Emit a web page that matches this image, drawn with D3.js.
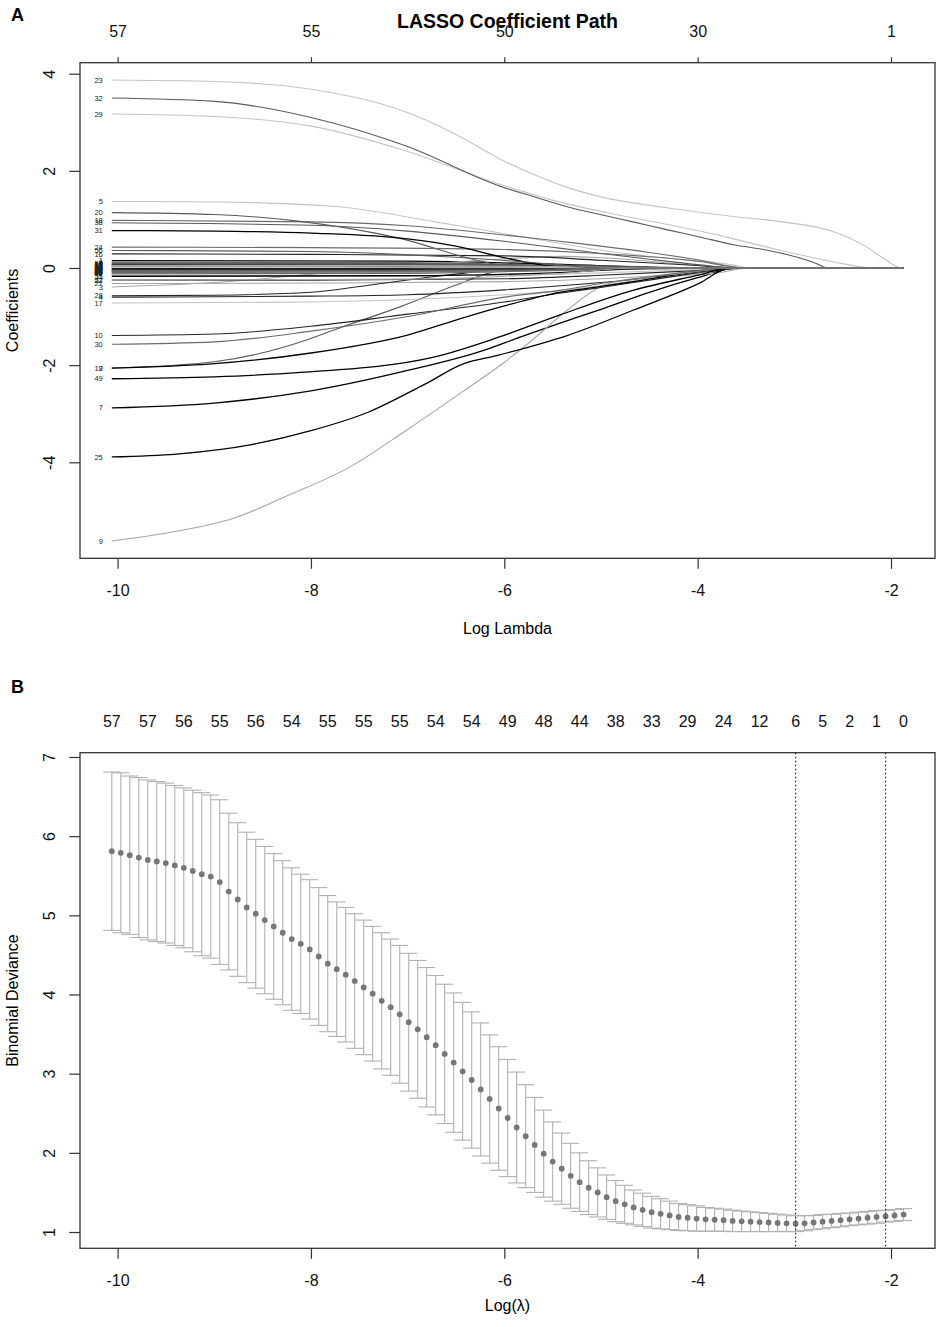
<!DOCTYPE html>
<html>
<head>
<meta charset="utf-8">
<script src="https://cdn.jsdelivr.net/npm/d3@7"></script>
<style>
  body { margin: 0; background: #fff; }
  svg { display: block; font-family: "Liberation Sans", Arial, sans-serif; }
</style>
</head>
<body>
<div id="chart"></div>
<script>
////////////////////////////////////////////////////////////////////////
// Data

// panel A: degrees of freedom shown on the top axis
let topDfTicks = [-10, -8, -6, -4, -2]
let topDfLabels = ['57', '55', '50', '30', '1']

// panel A: variable number of each coefficient path
let coefVars = [
  1, 2, 3, 4, 5, 6, 7, 8, 9, 10, 11, 12, 13, 14, 15, 16, 17, 18, 19, 20,
  21, 22, 23, 24, 25, 26, 27, 28, 29, 30, 31, 32, 33, 34, 35, 36, 37, 38, 39, 40,
  41, 42, 43, 44, 45, 46, 47, 48, 49, 50, 51, 52, 53, 54, 55, 56, 57
]

// panel A: [log lambda, coefficient] knots of each path (same order as coefVars)
let coefPaths = [
  [[-10.06, 0.15], [-7, 0.14], [-5.5, 0.08], [-4.0, 0]],
  [[-10.06, -2.06], [-9, -1.93], [-8, -1.45], [-7.77, -1.28], [-7.08, -0.8], [-6.5, -0.35], [-6.15, -0.1], [-5.8, 0]],
  [[-10.06, -0.39], [-9, -0.3], [-8, -0.13], [-7, 0.04], [-6, 0.19], [-5.4, 0.24], [-5, 0.21], [-4.5, 0.14], [-4, 0.05], [-3.6, 0]],
  [[-10.06, -0.6], [-8, -0.58], [-7, -0.55], [-6, -0.45], [-5, -0.3], [-4.5, -0.2], [-4, -0.08], [-3.5, 0]],
  [[-10.06, 1.37], [-9, 1.36], [-7.77, 1.27], [-6.74, 0.96], [-6.04, 0.72], [-5.43, 0.51], [-5.01, 0.37], [-4.32, 0.2], [-3.63, 0.06], [-3.46, 0]],
  [[-10.06, 0.12], [-7, 0.11], [-5.5, 0.05], [-4.4, 0]],
  [[-10.06, -2.88], [-9, -2.78], [-8, -2.53], [-7, -2.11], [-6.22, -1.7], [-5.83, -1.42], [-5.43, -1.14], [-5, -0.85], [-4.5, -0.5], [-4, -0.2], [-3.6, 0]],
  [[-10.06, 0.1], [-7, 0.09], [-5.5, 0.06], [-3.7, 0]],
  [[-10.06, -5.62], [-9.39, -5.42], [-8.8, -5.15], [-8.21, -4.66], [-7.61, -4.11], [-7.02, -3.35], [-6.42, -2.53], [-6.02, -1.97], [-5.75, -1.55], [-5.35, -0.87], [-5.01, -0.39], [-4.77, -0.25], [-4.32, -0.18], [-3.8, -0.1], [-3.46, 0]],
  [[-10.06, -1.39], [-9, -1.36], [-8, -1.2], [-7, -0.95], [-6, -0.7], [-5.43, -0.52], [-5, -0.4], [-4.5, -0.25], [-4, -0.1], [-3.5, 0]],
  [[-10.06, -0.17], [-8, -0.17], [-6, -0.15], [-5, -0.1], [-4, -0.03], [-3.6, 0]],
  [[-10.06, 0.08], [-7, 0.07], [-5.5, 0.03], [-4.8, 0]],
  [[-10.06, 0.07], [-7, 0.06], [-5.5, 0.02], [-5.2, 0]],
  [[-10.06, 0.06], [-7, 0.06], [-5.5, 0.04], [-3.9, 0]],
  [[-10.06, 0.05], [-7, 0.04], [-5.5, 0.02], [-4.6, 0]],
  [[-10.06, 0.29], [-8, 0.28], [-6, 0.25], [-5, 0.16], [-4, 0.05], [-3.6, 0]],
  [[-10.06, -0.72], [-8, -0.7], [-7, -0.65], [-6, -0.55], [-5.43, -0.47], [-5, -0.36], [-4.5, -0.22], [-4, -0.08], [-3.5, 0]],
  [[-10.06, 0.98], [-8, 0.95], [-7, 0.87], [-6, 0.68], [-5.43, 0.55], [-5, 0.45], [-4.5, 0.32], [-4, 0.17], [-3.5, 0]],
  [[-10.06, -2.06], [-9, -1.97], [-8, -1.75], [-7, -1.38], [-6.4, -1.01], [-6, -0.78], [-5.43, -0.5], [-5, -0.38], [-4.67, -0.28], [-4, -0.08], [-3.6, 0]],
  [[-10.06, 1.14], [-9, 1.1], [-8.11, 0.96], [-7.08, 0.61], [-6.22, 0.13], [-5.8, 0]],
  [[-10.06, 0.04], [-7, 0.03], [-5.8, 0.01], [-5.6, 0]],
  [[-10.06, -0.25], [-8, -0.25], [-6, -0.22], [-5, -0.15], [-4, -0.05], [-3.5, 0]],
  [[-10.06, 3.87], [-9, 3.84], [-8, 3.68], [-7, 3.2], [-6.5, 2.75], [-6.04, 2.24], [-5.7, 1.93], [-5.35, 1.66], [-5.01, 1.47], [-4.32, 1.24], [-3.63, 1.06], [-3.12, 0.95], [-2.6, 0.75], [-2.25, 0.43], [-2.08, 0.2], [-1.88, 0]],
  [[-10.06, 0.43], [-8, 0.42], [-6, 0.38], [-5, 0.3], [-4, 0.14], [-3.5, 0]],
  [[-10.06, -3.89], [-9.39, -3.83], [-8.6, -3.63], [-8, -3.35], [-7.41, -2.97], [-6.82, -2.39], [-6.42, -1.97], [-6.07, -1.8], [-5.63, -1.56], [-5.35, -1.39], [-4.67, -0.87], [-3.98, -0.31], [-3.67, 0]],
  [[-10.06, 0.03], [-7, 0.03], [-5.5, 0.02], [-4.1, 0]],
  [[-10.06, -0.32], [-8, -0.31], [-6, -0.28], [-5, -0.22], [-4.3, -0.14], [-3.6, 0]],
  [[-10.06, -0.57], [-9, -0.56], [-8, -0.5], [-7.42, -0.36], [-6.74, -0.18], [-6.39, -0.1], [-6, 0]],
  [[-10.06, 3.17], [-9, 3.12], [-8, 2.92], [-7, 2.4], [-6.04, 1.72], [-5.35, 1.32], [-5.01, 1.17], [-4.32, 0.9], [-3.98, 0.76], [-3.63, 0.6], [-3.18, 0.38], [-2.6, 0.13], [-2.19, 0]],
  [[-10.06, -1.57], [-9, -1.52], [-8, -1.3], [-7, -1.0], [-6, -0.6], [-5.43, -0.46], [-5, -0.32], [-4.5, -0.18], [-4, -0.06], [-3.6, 0]],
  [[-10.06, 0.77], [-9, 0.76], [-8, 0.72], [-7, 0.6], [-6.5, 0.45], [-6.04, 0.23], [-5.6, 0.06], [-5.3, 0]],
  [[-10.06, 3.5], [-9, 3.43], [-8, 3.1], [-7, 2.5], [-6.04, 1.68], [-5.7, 1.47], [-5.35, 1.26], [-5.01, 1.1], [-4.67, 0.95], [-4.32, 0.79], [-3.98, 0.64], [-3.63, 0.48], [-3.29, 0.37], [-2.95, 0.21], [-2.78, 0.1], [-2.65, 0]],
  [[-10.06, 0.02], [-8, 0.02], [-7, 0.01], [-6.5, 0]],
  [[-10.06, 0.01], [-8, 0.01], [-6.5, 0.005], [-6.0, 0]],
  [[-10.06, 0.01], [-8, 0.01], [-6.3, 0]],
  [[-10.06, -0.01], [-8, -0.01], [-6.8, 0]],
  [[-10.06, -0.02], [-7, -0.02], [-5.5, -0.01], [-5.0, 0]],
  [[-10.06, 0.93], [-8, 0.88], [-7, 0.76], [-6, 0.55], [-5.43, 0.41], [-5, 0.3], [-4.5, 0.18], [-4, 0.07], [-3.6, 0]],
  [[-10.06, -0.03], [-7, -0.03], [-5.5, -0.02], [-4.3, 0]],
  [[-10.06, -0.04], [-7, -0.04], [-5.5, -0.02], [-4.7, 0]],
  [[-10.06, -0.05], [-7, -0.05], [-5.5, -0.03], [-3.9, 0]],
  [[-10.06, -0.06], [-7, -0.05], [-5.5, -0.03], [-4.5, 0]],
  [[-10.06, -0.07], [-7, -0.06], [-5.5, -0.04], [-3.8, 0]],
  [[-10.06, -0.08], [-7, -0.07], [-5.5, -0.03], [-5.1, 0]],
  [[-10.06, -0.09], [-7, -0.08], [-5.5, -0.05], [-4.0, 0]],
  [[-10.06, -0.1], [-7, -0.09], [-5.5, -0.04], [-4.9, 0]],
  [[-10.06, -0.11], [-7, -0.1], [-5.5, -0.06], [-3.7, 0]],
  [[-10.06, -0.12], [-7, -0.11], [-5.5, -0.05], [-4.4, 0]],
  [[-10.06, -2.28], [-9, -2.24], [-8.11, -2.15], [-6.74, -1.84], [-6.05, -1.42], [-5.43, -0.97], [-4.67, -0.46], [-3.98, -0.14], [-3.67, 0]],
  [[-10.06, 0.09], [-7, 0.08], [-5.5, 0.03], [-5.3, 0]],
  [[-10.06, 0.05], [-7, 0.05], [-5.5, 0.03], [-4.2, 0]],
  [[-10.06, -0.03], [-7, -0.03], [-6, -0.01], [-5.8, 0]],
  [[-10.06, 0.02], [-7, 0.02], [-5.5, 0.01], [-4.9, 0]],
  [[-10.06, -0.06], [-7, -0.06], [-5.5, -0.04], [-3.6, 0]],
  [[-10.06, -0.17], [-7, -0.16], [-5.5, -0.1], [-4.4, 0]],
  [[-10.06, 0.36], [-8, 0.34], [-6.5, 0.22], [-5.5, 0.08], [-5, 0]],
  [[-10.06, -0.25], [-7, -0.23], [-5.5, -0.12], [-4.6, 0]]
]

// panel B: log lambda of the first and last lambda of the path
let lambdaRange = [-10.06, -1.87]

// panel B: cross-validated binomial deviance, one value per lambda
let cvMean = [
  5.81, 5.79, 5.76, 5.73, 5.70, 5.68, 5.66, 5.63, 5.60, 5.56,
  5.52, 5.49, 5.42, 5.30, 5.20, 5.10, 5.02, 4.94, 4.86, 4.78,
  4.70, 4.64, 4.57, 4.48, 4.39, 4.32, 4.25, 4.17, 4.09, 4.01,
  3.92, 3.84, 3.75, 3.65, 3.56, 3.46, 3.36, 3.25, 3.14, 3.03,
  2.92, 2.80, 2.68, 2.56, 2.44, 2.32, 2.21, 2.10, 1.99, 1.89,
  1.80, 1.71, 1.63, 1.56, 1.50, 1.44, 1.39, 1.35, 1.31, 1.28,
  1.25, 1.23, 1.21, 1.19, 1.18, 1.17, 1.16, 1.155, 1.15, 1.14,
  1.135, 1.13, 1.125, 1.12, 1.115, 1.11, 1.105, 1.11, 1.12, 1.13,
  1.14, 1.15, 1.16, 1.17, 1.18, 1.19, 1.20, 1.21, 1.22
]

// panel B: standard error of each deviance value
let cvSE = [
  1.00, 1.01, 1.00, 1.01, 1.01, 1.01, 1.01, 1.01, 1.01, 1.02,
  1.03, 1.03, 1.04, 0.99, 0.97, 0.95, 0.94, 0.93, 0.92, 0.91,
  0.90, 0.88, 0.88, 0.87, 0.86, 0.85, 0.85, 0.85, 0.85, 0.85,
  0.86, 0.86, 0.87, 0.87, 0.87, 0.88, 0.88, 0.88, 0.88, 0.87,
  0.86, 0.84, 0.81, 0.78, 0.74, 0.70, 0.65, 0.60, 0.55, 0.50,
  0.45, 0.41, 0.37, 0.34, 0.31, 0.28, 0.26, 0.24, 0.22, 0.21,
  0.20, 0.19, 0.18, 0.17, 0.165, 0.16, 0.15, 0.145, 0.14, 0.135,
  0.13, 0.125, 0.12, 0.115, 0.11, 0.105, 0.10, 0.095, 0.09, 0.09,
  0.085, 0.085, 0.08, 0.08, 0.08, 0.08, 0.075, 0.075, 0.075
]

// panel B: number of nonzero coefficients printed on top, with lambda index
let nzIndex = [0, 4, 8, 12, 16, 20, 24, 28, 32, 36, 40, 44, 48, 52, 56, 60, 64, 68, 72, 76, 79, 82, 85, 88]
let nzLabels = ['57', '57', '56', '55', '56', '54', '55', '55', '55', '54', '54', '49', '48', '44', '38', '33', '29', '24', '12', '6', '5', '2', '1', '0']

// panel B: index of lambda.min and lambda.1se
let lambdaMinIdx = 76
let lambda1seIdx = 86

// shared x ticks and y ticks
let xTicks = [-10, -8, -6, -4, -2]
let yTicksA = [-4, -2, 0, 2, 4]
let yTicksB = [1, 2, 3, 4, 5, 6, 7]

////////////////////////////////////////////////////////////////////////
// Layout

let width = 936
let height = 1327
let boxLeft = 80
let boxRight = 935
let aTop = 62.7
let aBottom = 558.3
let bTop = 752.7
let bBottom = 1248.3
let fontFam = '"Liberation Sans", Arial, sans-serif'

// grey versions of R's default line colours 1:6
let palette = ['#000000', '#5a5a5a', '#a6a6a6', '#262626', '#c4c4c4', '#6a6a6a']

let svg = d3
  .select('#chart')
  .append('svg')
  .attr('width', width)
  .attr('height', height)

let xScale = d3.scaleLinear().domain([-10, -2]).range([117.6, 891])
let yA = d3.scaleLinear().domain([-4, 4]).range([462.3, 73.7])
let yB = d3.scaleLinear().domain([1, 7]).range([1232, 757])

// position of each cv lambda along the log lambda axis
let lamIdx = d3.scaleLinear().domain([0, cvMean.length - 1]).range(lambdaRange)
let xB = i => xScale(lamIdx(i))

function styleAxis (g) {
  g.select('.domain').remove()
  g.selectAll('line').attr('stroke', '#333').attr('stroke-width', 1.2)
  g.selectAll('text')
    .attr('font-size', 16)
    .attr('font-family', fontFam)
    .attr('fill', '#111')
}

function rotateLeftLabels (g) {
  g.selectAll('text')
    .attr('x', 0)
    .attr('y', 0)
    .attr('dy', 0)
    .attr('text-anchor', 'middle')
    .attr('transform', 'translate(-25,0) rotate(-90)')
}

////////////////////////////////////////////////////////////////////////
// Panel A: coefficient paths

svg.append('text')
  .attr('x', 11)
  .attr('y', 21)
  .attr('font-size', 18)
  .attr('font-weight', 'bold')
  .text('A')

svg.append('text')
  .attr('x', (boxLeft + boxRight) / 2)
  .attr('y', 28)
  .attr('text-anchor', 'middle')
  .attr('font-size', 19.5)
  .attr('font-weight', 'bold')
  .text('LASSO Coefficient Path')

let lineA = d3
  .line()
  .x(d => xScale(d[0]))
  .y(d => yA(d[1]))
  .curve(d3.curveMonotoneX)

let gPaths = svg.append('g')
coefPaths.forEach(function (p, i) {
  // coefficients stay at zero to the right of where they leave the model
  let pts = p[p.length - 1][0] < lambdaRange[1] ? p.concat([[lambdaRange[1], 0]]) : p
  let col = palette[(coefVars[i] - 1) % 6]
  gPaths.append('path')
    .attr('d', lineA(pts))
    .attr('fill', 'none')
    .attr('stroke', col)
    .attr('stroke-width', col === '#000000' ? 1.3 : 1.1)
})

// variable labels at the left end of the paths
svg.append('g')
  .selectAll('text')
  .data(coefVars)
  .enter()
  .append('text')
  .attr('x', xScale(lambdaRange[0]) - 9)
  .attr('y', (d, i) => yA(coefPaths[i][0][1]) + 2.6)
  .attr('text-anchor', 'end')
  .attr('font-size', 7.5)
  .attr('fill', '#222')
  .text(d => d)

svg.append('rect')
  .attr('x', boxLeft)
  .attr('y', aTop)
  .attr('width', boxRight - boxLeft)
  .attr('height', aBottom - aTop)
  .attr('fill', 'none')
  .attr('stroke', '#333')
  .attr('stroke-width', 1.3)

svg.append('g')
  .attr('transform', 'translate(0,' + aBottom + ')')
  .call(d3.axisBottom(xScale).tickValues(xTicks).tickFormat(d => String(d)).tickSize(10.5).tickPadding(16))
  .call(styleAxis)

svg.append('g')
  .attr('transform', 'translate(0,' + aTop + ')')
  .call(d3.axisTop(xScale).tickValues(topDfTicks).tickFormat((d, i) => topDfLabels[i]).tickSize(5.4).tickPadding(20))
  .call(styleAxis)

svg.append('g')
  .attr('transform', 'translate(' + boxLeft + ',0)')
  .call(d3.axisLeft(yA).tickValues(yTicksA).tickFormat(d => String(d)).tickSize(10.7))
  .call(styleAxis)
  .call(rotateLeftLabels)

svg.append('text')
  .attr('x', (boxLeft + boxRight) / 2)
  .attr('y', 634)
  .attr('text-anchor', 'middle')
  .attr('font-size', 16)
  .text('Log Lambda')

svg.append('text')
  .attr('transform', 'translate(18,' + (aTop + aBottom) / 2 + ') rotate(-90)')
  .attr('text-anchor', 'middle')
  .attr('font-size', 16)
  .text('Coefficients')

////////////////////////////////////////////////////////////////////////
// Panel B: cross-validation curve

svg.append('text')
  .attr('x', 11)
  .attr('y', 693)
  .attr('font-size', 18)
  .attr('font-weight', 'bold')
  .text('B')

// error bars, caps are 1% of the plot width
let capHalf = 0.01 * (boxRight - boxLeft)
let gBars = svg.append('g').attr('stroke', '#b0b0b0').attr('stroke-width', 1.1)
cvMean.forEach(function (m, i) {
  let up = yB(m + cvSE[i])
  let lo = yB(m - cvSE[i])
  let cx = xB(i)
  gBars.append('line').attr('x1', cx).attr('x2', cx).attr('y1', up).attr('y2', lo)
  gBars.append('line').attr('x1', cx - capHalf).attr('x2', cx + capHalf).attr('y1', up).attr('y2', up)
  gBars.append('line').attr('x1', cx - capHalf).attr('x2', cx + capHalf).attr('y1', lo).attr('y2', lo)
})

svg.append('g')
  .selectAll('circle')
  .data(cvMean)
  .enter()
  .append('circle')
  .attr('cx', (d, i) => xB(i))
  .attr('cy', d => yB(d))
  .attr('r', 2.9)
  .attr('fill', '#777')

// lambda.min and lambda.1se
svg.append('g')
  .selectAll('line')
  .data([lambdaMinIdx, lambda1seIdx])
  .enter()
  .append('line')
  .attr('x1', d => xB(d))
  .attr('x2', d => xB(d))
  .attr('y1', bTop)
  .attr('y2', bBottom)
  .attr('stroke', '#222')
  .attr('stroke-width', 1.2)
  .attr('stroke-dasharray', '1.5,2.5')

svg.append('rect')
  .attr('x', boxLeft)
  .attr('y', bTop)
  .attr('width', boxRight - boxLeft)
  .attr('height', bBottom - bTop)
  .attr('fill', 'none')
  .attr('stroke', '#333')
  .attr('stroke-width', 1.3)

svg.append('g')
  .selectAll('text')
  .data(nzLabels)
  .enter()
  .append('text')
  .attr('x', (d, i) => xB(nzIndex[i]))
  .attr('y', 727)
  .attr('text-anchor', 'middle')
  .attr('font-size', 16)
  .attr('fill', '#111')
  .text(d => d)

svg.append('g')
  .attr('transform', 'translate(0,' + bBottom + ')')
  .call(d3.axisBottom(xScale).tickValues(xTicks).tickFormat(d => String(d)).tickSize(10.5).tickPadding(16))
  .call(styleAxis)

svg.append('g')
  .attr('transform', 'translate(' + boxLeft + ',0)')
  .call(d3.axisLeft(yB).tickValues(yTicksB).tickFormat(d => String(d)).tickSize(10.7))
  .call(styleAxis)
  .call(rotateLeftLabels)

svg.append('text')
  .attr('x', (boxLeft + boxRight) / 2)
  .attr('y', 1311)
  .attr('text-anchor', 'middle')
  .attr('font-size', 16)
  .text('Log(\u03bb)')

svg.append('text')
  .attr('transform', 'translate(18,' + (bTop + bBottom) / 2 + ') rotate(-90)')
  .attr('text-anchor', 'middle')
  .attr('font-size', 16)
  .text('Binomial Deviance')
</script>
</body>
</html>
